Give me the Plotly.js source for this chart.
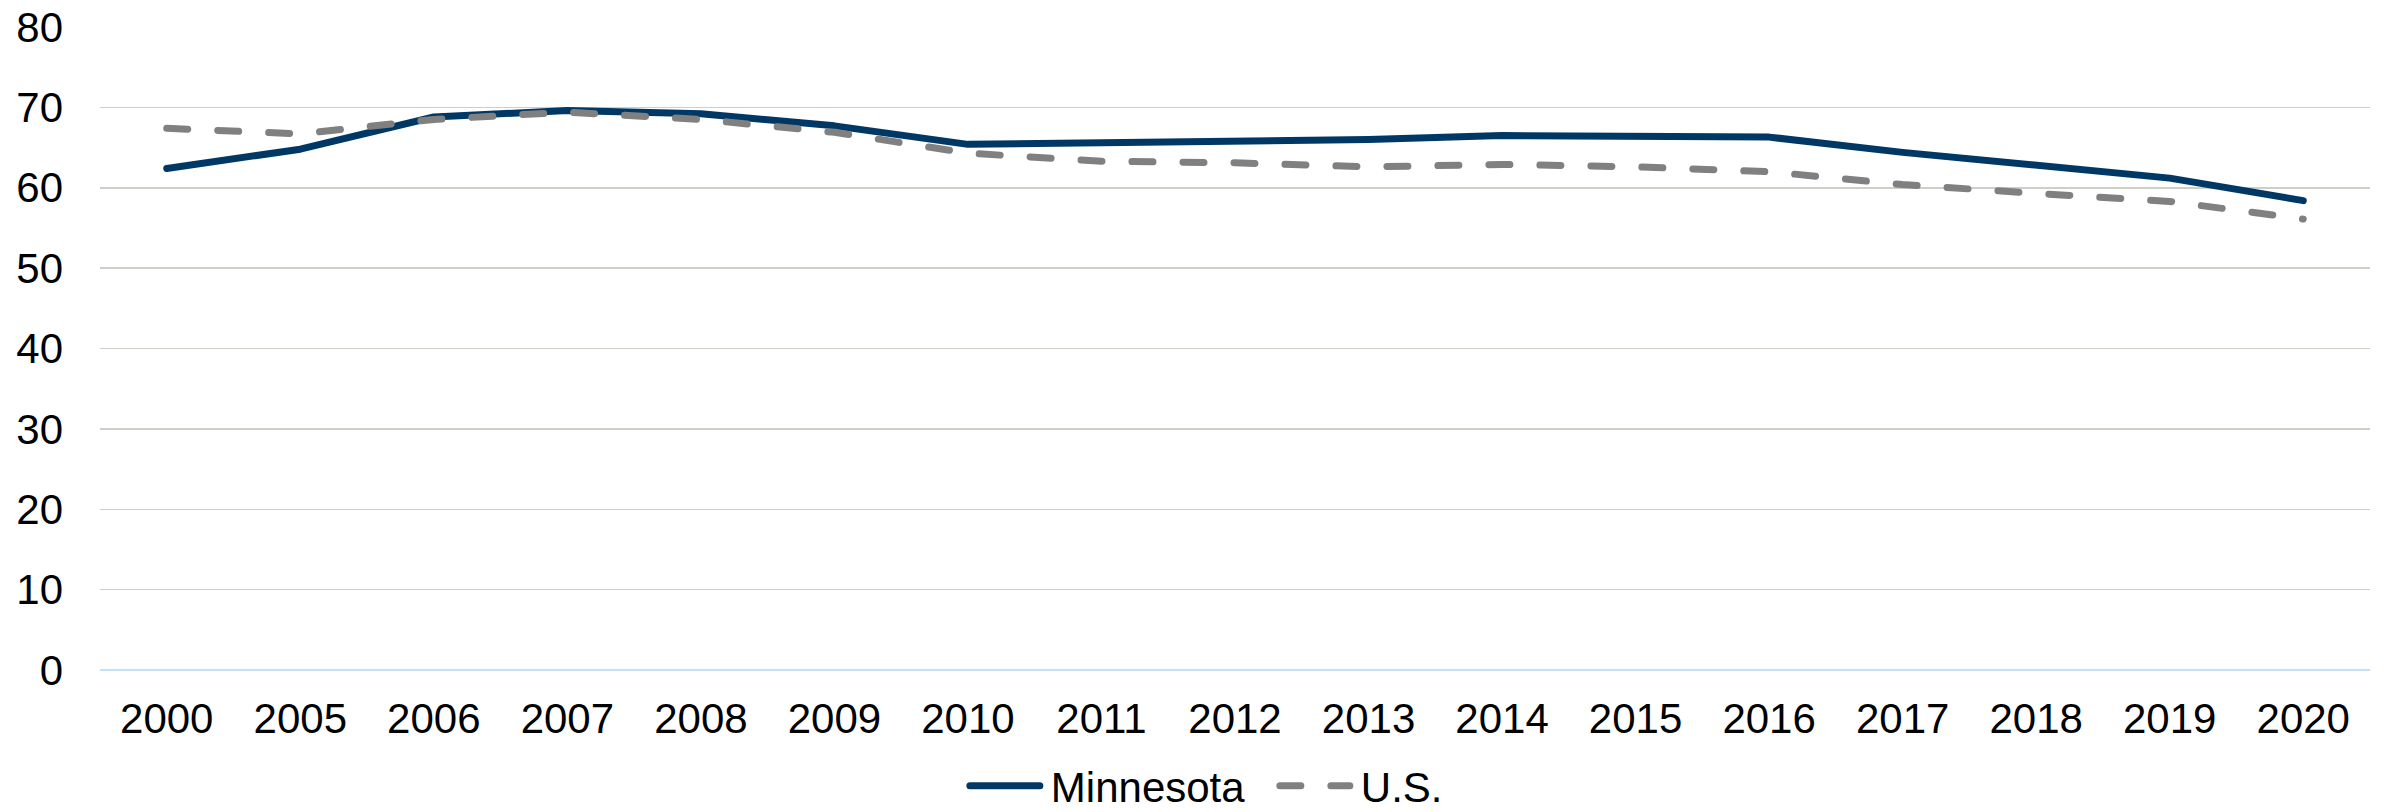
<!DOCTYPE html>
<html>
<head>
<meta charset="utf-8">
<script src="https://cdn.plot.ly/plotly-3.0.1.min.js"></script>
<style>
  html, body { margin: 0; padding: 0; background: #ffffff; }
  #chart { width: 2387px; height: 812px; }
</style>
</head>
<body>
<div id="chart"></div>
<script>
const years = ['2000','2005','2006','2007','2008','2009','2010','2011','2012','2013','2014','2015','2016','2017','2018','2019','2020'];
const minnesota = [62.4, 64.8, 68.8, 69.6, 69.2, 67.7, 65.4, 65.6, 65.7, 66.0, 66.5, 66.4, 66.3, 64.4, 62.9, 61.2, 58.4];
const us = [67.4, 66.7, 68.5, 69.4, 68.5, 66.9, 64.3, 63.3, 63.1, 62.6, 62.9, 62.6, 62.0, 60.4, 59.3, 58.3, 56.1];
const seriesNames = ['Minnesota', 'U.S.'];
const yTicks = [0, 10, 20, 30, 40, 50, 60, 70, 80];

const traces = [
  {
    x: years, y: minnesota, name: seriesNames[0], type: 'scatter', mode: 'lines',
    line: { color: '#003865', width: 7 }
  },
  {
    x: years, y: us, name: seriesNames[1], type: 'scatter', mode: 'lines',
    line: { color: '#808080', width: 7, dash: '21px,30px' }
  }
];

const layout = {
  width: 2387, height: 812,
  margin: { l: 100, r: 17, t: 27, b: 142 },
  paper_bgcolor: '#ffffff', plot_bgcolor: '#ffffff',
  font: { family: '"Liberation Sans", Arial, sans-serif', size: 42, color: '#000000' },
  showlegend: true,
  legend: {
    orientation: 'h', x: 0.518, xanchor: 'center',
    yref: 'container', y: 0.032, yanchor: 'middle',
    font: { size: 42, color: '#000000' }, itemwidth: 75, traceorder: 'normal',
    entrywidth: 220
  },
  xaxis: {
    type: 'category', range: [-0.5, years.length - 0.5], automargin: false,
    showgrid: false, zeroline: false, showline: false,
    ticks: '', tickfont: { size: 42 }, ticklabelstandoff: 20
  },
  yaxis: {
    range: [0, 80], tickvals: yTicks, ticktext: yTicks.map(String), automargin: false,
    showgrid: true, gridcolor: '#cfcfca', gridwidth: 1.5,
    zeroline: true, zerolinecolor: '#c2e1fa', zerolinewidth: 2.5,
    showline: false, ticks: '', tickfont: { size: 42 }, ticklabelstandoff: 36
  }
};

Plotly.newPlot('chart', traces, layout, { displayModeBar: false, staticPlot: true }).then(() => {
  document.querySelectorAll('.scatterlayer path.js-line').forEach(p => {
    p.style.strokeLinecap = 'round';
    p.style.strokeLinejoin = 'round';
  });
  document.querySelectorAll('.legend path.js-line').forEach(p => {
    p.setAttribute('d', 'M4,0h70');
    p.style.strokeLinecap = 'round';
  });
});
</script>
</body>
</html>
